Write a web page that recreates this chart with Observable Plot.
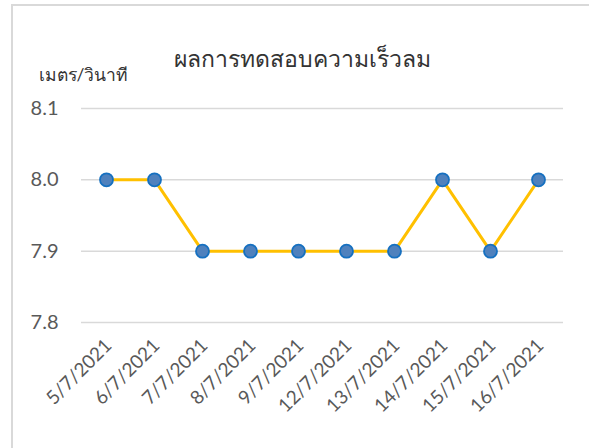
<!DOCTYPE html>
<html>
<head>
<meta charset="utf-8">
<script src="https://cdn.jsdelivr.net/npm/d3@7"></script>
<script src="https://cdn.jsdelivr.net/npm/@observablehq/plot@0.6"></script>
<style>
  body { margin: 0; background: #fff; }
  #wrap { position: relative; width: 589px; height: 448px; overflow: hidden; }
  #frame { position: absolute; left: 11px; top: 4px; width: 700px; height: 600px;
           border-left: 2px solid #d9d9d9; border-top: 2px solid #d9d9d9; pointer-events: none; }
  svg { font-family: Lato, "Noto Sans", sans-serif; }
</style>
</head>
<body>
<div id="wrap"><div id="frame"></div></div>
<script>
const dates = ["5/7/2021","6/7/2021","7/7/2021","8/7/2021","9/7/2021","12/7/2021","13/7/2021","14/7/2021","15/7/2021","16/7/2021"];
const speeds = [8.0, 8.0, 7.9, 7.9, 7.9, 7.9, 7.9, 8.0, 7.9, 8.0];
const yTicks = [7.8, 7.9, 8.0, 8.1];
const title = "ผลการทดสอบความเร็วลม";
const yLabel = "เมตร/วินาที";

const data = dates.map((d, i) => ({date: d, value: speeds[i]}));

const chart = Plot.plot({
  width: 589,
  height: 448,
  marginTop: 108,
  marginBottom: 126,
  marginLeft: 81,
  marginRight: 26,
  style: {background: "transparent", fontFamily: "Lato, 'Noto Sans', sans-serif"},
  x: {type: "point", domain: dates, padding: 0.5, label: null},
  y: {domain: [7.8, 8.1], ticks: yTicks, label: null},
  marks: [
    Plot.gridY(yTicks, {stroke: "#d9d9d9", strokeOpacity: 1, strokeWidth: 1.5}),
    Plot.axisY(yTicks, {tickSize: 0, tickPadding: 23, fontSize: 20, fill: "#595959", tickFormat: d => d.toFixed(1), label: null}),
    Plot.axisX({tickSize: 0, tickRotate: -45, fontSize: 19, fill: "#595959", tickPadding: 20, label: null, dx: 2}),
    Plot.line(data, {x: "date", y: "value", stroke: "#FFC000", strokeWidth: 3}),
    Plot.dot(data, {x: "date", y: "value", r: 6.5, fill: "#4F81BD", stroke: "#1670C0", strokeWidth: 1.8}),
    Plot.text([title], {frameAnchor: "top", dy: -58, dx: -20, fontSize: 23, fill: "#333333"}),
    Plot.text([yLabel], {frameAnchor: "top-left", dx: -43, dy: -40, fontSize: 17.5, fill: "#333333", textAnchor: "start"})
  ]
});
document.getElementById("wrap").appendChild(chart);
chart.style.position = "absolute";
chart.style.left = "0";
chart.style.top = "0";
</script>
</body>
</html>
